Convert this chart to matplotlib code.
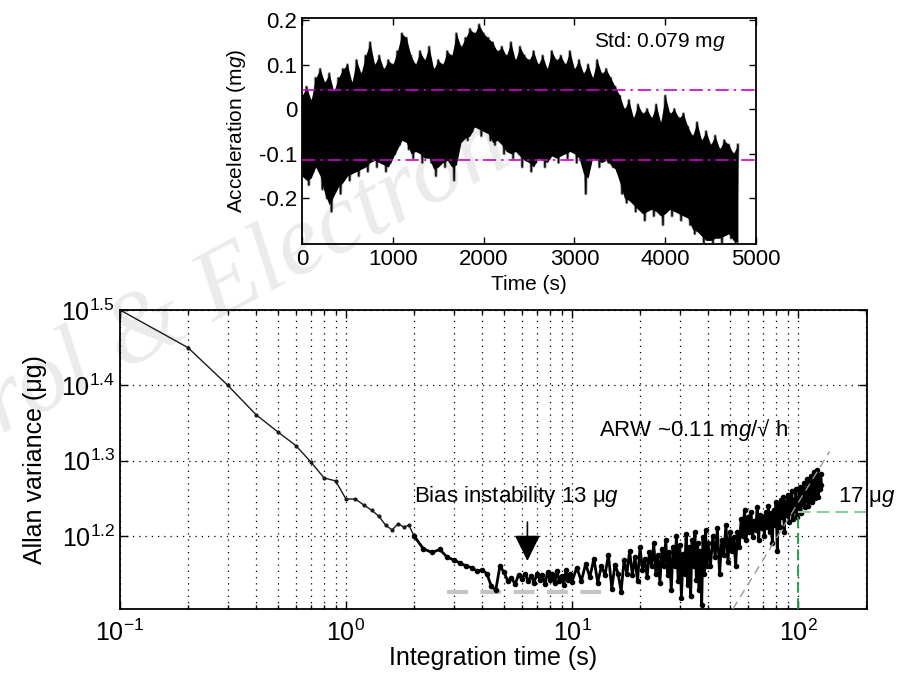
import matplotlib
matplotlib.use('Agg')
import matplotlib.pyplot as plt
import numpy as np

plt.rcParams['font.family'] = ['Liberation Sans', 'DejaVu Sans']
plt.rcParams['mathtext.fontset'] = 'custom'
plt.rcParams['mathtext.rm'] = 'Liberation Sans'
plt.rcParams['mathtext.it'] = 'Liberation Sans:italic'
plt.rcParams['mathtext.bf'] = 'Liberation Sans:bold'

# ---- top panel: raw accelerometer output, one sample every 25 s ----
sample_step = 25
acc = [0.03, -0.15, 0.05, -0.17, 0.02, -0.14, 0.07, -0.12, 0.09, -0.18,
       0.06, -0.20, 0.08, -0.23, 0.04, -0.16, 0.07, -0.19, 0.09, -0.14,
       0.10, -0.16, 0.06, -0.13, 0.11, -0.15, 0.08, -0.12, 0.12, -0.14,
       0.15, -0.10, 0.10, -0.13, 0.12, -0.11, 0.09, -0.14, 0.11, -0.12,
       0.10, -0.10, 0.13, -0.08, 0.17, -0.06, 0.16, -0.09, 0.12, -0.11,
       0.10, -0.08, 0.13, -0.12, 0.11, -0.10, 0.14, -0.12, 0.09, -0.15,
       0.11, -0.11, 0.10, -0.13, 0.13, -0.10, 0.12, -0.16, 0.17, -0.09,
       0.14, -0.06, 0.16, -0.07, 0.18, -0.05, 0.17, -0.03, 0.19, -0.06,
       0.17, -0.04, 0.16, -0.07, 0.15, -0.08, 0.13, -0.06, 0.14, -0.10,
       0.12, -0.09, 0.15, -0.11, 0.11, -0.08, 0.14, -0.13, 0.12, -0.10,
       0.11, -0.14, 0.13, -0.12, 0.10, -0.10, 0.12, -0.13, 0.09, -0.11,
       0.13, -0.10, 0.11, -0.12, 0.12, -0.09, 0.10, -0.11, 0.13, -0.08,
       0.09, -0.12, 0.11, -0.10, 0.08, -0.19, 0.10, -0.12, 0.07, -0.10,
       0.11, -0.13, 0.08, -0.11, 0.09, -0.12, 0.07, -0.13, 0.05, -0.14,
       0.03, -0.19, 0.00, -0.21, 0.02, -0.20, -0.02, -0.23, 0.01, -0.22,
       -0.01, -0.25, 0.00, -0.21, -0.02, -0.24, 0.01, -0.22, -0.03, -0.26,
       0.03, -0.21, -0.01, -0.24, 0.00, -0.22, -0.02, -0.25, -0.01, -0.23,
       -0.04, -0.26, -0.06, -0.28, -0.03, -0.27, -0.07, -0.30, -0.05, -0.29,
       -0.08, -0.30, -0.06, -0.28, -0.09, -0.30, -0.07, -0.27, -0.08, -0.29,
       -0.10, -0.30, -0.08]
acc_mean = -0.036
acc_std = 0.079

# ---- bottom panel: Allan deviation ----
tau = [0.1, 0.2, 0.3, 0.4, 0.5, 0.6, 0.7, 0.8, 0.9, 1.0,
       1.1, 1.2, 1.3, 1.4, 1.5, 1.6, 1.7, 1.8, 1.9, 2.0,
       2.2, 2.4, 2.6, 2.8, 3.0, 3.2, 3.4, 3.6, 3.8, 4.0,
       4.2, 4.4, 4.6, 4.8, 5.0, 5.2, 5.4, 5.6, 5.8, 6.0,
       6.2, 6.4, 6.6, 6.8, 7.0, 7.2, 7.4, 7.6, 7.8, 8.0,
       8.2, 8.4, 8.6, 8.8, 9.0, 9.2, 9.4, 9.6, 9.8, 10.0,
       10.5, 11.0, 11.5, 12.0, 12.5, 13.0, 13.5, 14.0, 14.5, 15.0,
       15.5, 16.0, 16.5, 17.0, 17.5, 18.0, 18.5, 19.0, 19.5, 20.0,
       20.5, 21.0, 21.5, 22.0, 22.5, 23.0, 23.5, 24.0, 24.5, 25.0,
       25.5, 26.0, 26.5, 27.0, 27.5, 28.0, 28.5, 29.0, 29.5, 30.0,
       30.5, 31.0, 31.5, 32.0, 32.5, 33.0, 33.5, 34.0, 34.5, 35.0,
       35.5, 36.0, 36.5, 37.0, 37.5, 38.0, 38.5, 39.0, 39.5, 40.0,
       41, 42, 43, 44, 45, 46, 47, 48, 49, 50,
       51, 52, 53, 54, 55, 56, 57, 58, 59, 60,
       61, 62, 63, 64, 65, 66, 67, 68, 69, 70,
       71, 72, 73, 74, 75, 76, 77, 78, 79, 80,
       81, 82, 83, 84, 85, 86, 87, 88, 89, 90,
       91, 92, 93, 94, 95, 96, 97, 98, 99, 100,
       101, 102, 103, 104, 105, 106, 107, 108, 109, 110,
       111, 112, 113, 114, 115, 116, 117, 118, 119, 120,
       121, 122, 123, 124, 125, 126, 127]
# log10 of the Allan deviation in ug
adev_exp = [1.500, 1.450, 1.400, 1.361, 1.338, 1.320, 1.298, 1.277, 1.273, 1.249,
            1.249, 1.241, 1.234, 1.226, 1.214, 1.208, 1.216, 1.212, 1.214, 1.200,
            1.183, 1.178, 1.182, 1.172, 1.168, 1.164, 1.160, 1.158, 1.153, 1.155,
            1.150, 1.133, 1.128, 1.160, 1.152, 1.140, 1.144, 1.136, 1.148, 1.143,
            1.150, 1.140, 1.147, 1.138, 1.150, 1.142, 1.148, 1.136, 1.152, 1.141,
            1.149, 1.138, 1.153, 1.140, 1.147, 1.135, 1.155, 1.141, 1.150, 1.139,
            1.158, 1.140, 1.163, 1.145, 1.170, 1.138, 1.160, 1.148, 1.175, 1.130,
            1.162, 1.150, 1.126, 1.168, 1.150, 1.180, 1.148, 1.172, 1.140, 1.185,
            1.155, 1.170, 1.145, 1.178, 1.160, 1.190, 1.150, 1.175, 1.138, 1.182,
            1.160, 1.195, 1.148, 1.178, 1.128, 1.185, 1.160, 1.200, 1.140, 1.188,
            1.118, 1.176, 1.150, 1.202, 1.135, 1.185, 1.120, 1.195, 1.160, 1.205,
            1.142, 1.190, 1.128, 1.180, 1.108, 1.198, 1.150, 1.208, 1.160, 1.190,
            1.160, 1.200, 1.172, 1.210, 1.150, 1.195, 1.175, 1.215, 1.165, 1.205,
            1.180, 1.198, 1.160, 1.205, 1.185, 1.222, 1.200, 1.235, 1.195, 1.225,
            1.205, 1.232, 1.198, 1.220, 1.208, 1.238, 1.195, 1.228, 1.210, 1.225,
            1.200, 1.232, 1.212, 1.240, 1.205, 1.230, 1.190, 1.235, 1.215, 1.245,
            1.180, 1.240, 1.212, 1.248, 1.225, 1.252, 1.205, 1.245, 1.228, 1.255,
            1.218, 1.250, 1.232, 1.260, 1.222, 1.248, 1.235, 1.262, 1.225, 1.250,
            1.238, 1.265, 1.230, 1.258, 1.242, 1.270, 1.238, 1.262, 1.248, 1.275,
            1.240, 1.268, 1.252, 1.280, 1.245, 1.272, 1.255, 1.285, 1.250, 1.278,
            1.258, 1.288, 1.252, 1.275, 1.262, 1.282, 1.268]
n_smooth = 20   # points before the curve turns noisy

bias_tau = [2.8, 14.0]
bias_exp = 1.125
arw_tau = [51.5, 138.0]
arw_exp = [1.103, 1.312]
rrw_tau = 100
rrw_exp = 1.232
arrow_tau = 6.35

fig = plt.figure(figsize=(9.13, 6.78), dpi=100)

# faint watermark behind everything
fig.text(-0.0745, 0.307, 'ntrol & Electronics', fontsize=72, family='Liberation Serif',
         style='italic', color='#ebebeb', rotation=28, rotation_mode='anchor',
         zorder=-5, ha='left', va='baseline')

# ----- top axes -----
ax1 = fig.add_axes([0.3308, 0.6401, 0.4973, 0.3333])
ax1.patch.set_alpha(0)
t = np.arange(len(acc)) * sample_step
hi = np.array(acc[0::2])
lo = np.array(acc[1::2])
ax1.fill_between(t[0::2], np.interp(t[0::2], t[1::2], lo), hi, color='black', lw=0, zorder=2)
ax1.plot(t, acc, color='#8c8c8c', lw=2.2, zorder=1)
ax1.plot(t, acc, color='black', lw=1.0, zorder=3)
ax1.axhline(acc_mean + acc_std, color='#cc00cc', lw=1.2, ls=(0, (8, 3, 1.5, 3)), zorder=4)
ax1.axhline(acc_mean - acc_std, color='#cc00cc', lw=1.2, ls=(0, (8, 3, 1.5, 3)), zorder=4)
ax1.set_xlim(0, 5000)
ax1.set_ylim(-0.303, 0.205)
ax1.set_xticks([0, 1000, 2000, 3000, 4000, 5000])
ax1.set_yticks([-0.2, -0.1, 0, 0.1, 0.2])
ax1.set_yticklabels(['-0.2', '-0.1', '0', '0.1', '0.2'])
ax1.tick_params(direction='in', top=True, right=True, labelsize=16, length=5, width=1)
for s in ax1.spines.values():
    s.set_linewidth(1.3)
ax1.set_xlabel('Time (s)', fontsize=15, labelpad=4)
ax1.set_ylabel('Acceleration (m$g$)', fontsize=15, labelpad=8)
ax1.text(3215, 0.153, 'Std: 0.079 m$g$', fontsize=15, va='center', ha='left')

# ----- bottom axes -----
ax2 = fig.add_axes([0.1314, 0.1018, 0.8182, 0.441])
ax2.patch.set_alpha(0)
adev = 10 ** np.array(adev_exp)
ax2.plot(bias_tau, [10 ** bias_exp] * 2, color='#c4c4c4', lw=3, ls=(0, (5, 3)), zorder=2)
ax2.plot(tau[:n_smooth], adev[:n_smooth], color='#1a1a1a', lw=1.0, marker='.',
         markersize=4, zorder=3)
ax2.plot(tau[n_smooth - 1:], adev[n_smooth - 1:], color='black', lw=2.0, marker='.',
         markersize=6, zorder=3)
ax2.plot(arw_tau, 10 ** np.array(arw_exp), color='#9a9a9a', lw=1.0, ls=(0, (6, 4)), zorder=4)
ax2.plot([rrw_tau, rrw_tau], [10 ** 1.103, 10 ** rrw_exp], color='#12a040', lw=1.3,
         ls=(0, (6, 3)), zorder=5)
ax2.plot([rrw_tau, 200], [10 ** rrw_exp] * 2, color='#86d09a', lw=1.5, ls=(0, (6, 3)), zorder=5)
ax2.set_xscale('log')
ax2.set_yscale('log')
ax2.set_xlim(0.1, 202)
ax2.set_ylim(10 ** 1.103, 10 ** 1.5)
ax2.set_xticks([0.1, 1, 10, 100])
ax2.set_xticklabels([r'$10^{-1}$', r'$10^{0}$', r'$10^{1}$', r'$10^{2}$'])
yexp = [1.2, 1.3, 1.4, 1.5]
ax2.set_yticks([10 ** e for e in yexp])
ax2.set_yticklabels([r'$10^{%g}$' % e for e in yexp])
ax2.yaxis.set_minor_locator(matplotlib.ticker.NullLocator())
ax2.tick_params(which='both', direction='in', top=True, right=True, labelsize=18, width=1)
ax2.tick_params(which='major', length=6)
ax2.tick_params(which='minor', length=3)
ax2.tick_params(axis='x', pad=8)
ax2.grid(True, which='both', axis='x', color='black', lw=0.9, ls=(0, (1, 4)))
ax2.grid(True, which='major', axis='y', color='black', lw=0.9, ls=(0, (1, 4)))
for s in ax2.spines.values():
    s.set_linewidth(1.3)
ax2.set_xlabel('Integration time (s)', fontsize=18, labelpad=0)
ax2.set_ylabel('Allan variance (μg)', fontsize=18, labelpad=10)

ax2.annotate('', xy=(arrow_tau, 10 ** 1.163), xytext=(arrow_tau, 10 ** 1.222),
             arrowprops=dict(arrowstyle='-|>,head_length=0.65,head_width=0.32',
                             mutation_scale=25, color='black', lw=1.2), zorder=6)
ax2.text(2.0, 10 ** 1.2523, 'Bias instability 13 μ$g$', fontsize=16, va='center', ha='left')
ax2.text(13.2, 10 ** 1.341, 'ARW ~0.11 m$g$/√ h', fontsize=16, va='center', ha='left')
ax2.text(150, 10 ** 1.2523, '17 μ$g$', fontsize=16, va='center', ha='left', clip_on=False)

fig.savefig('out.png', dpi=100)
